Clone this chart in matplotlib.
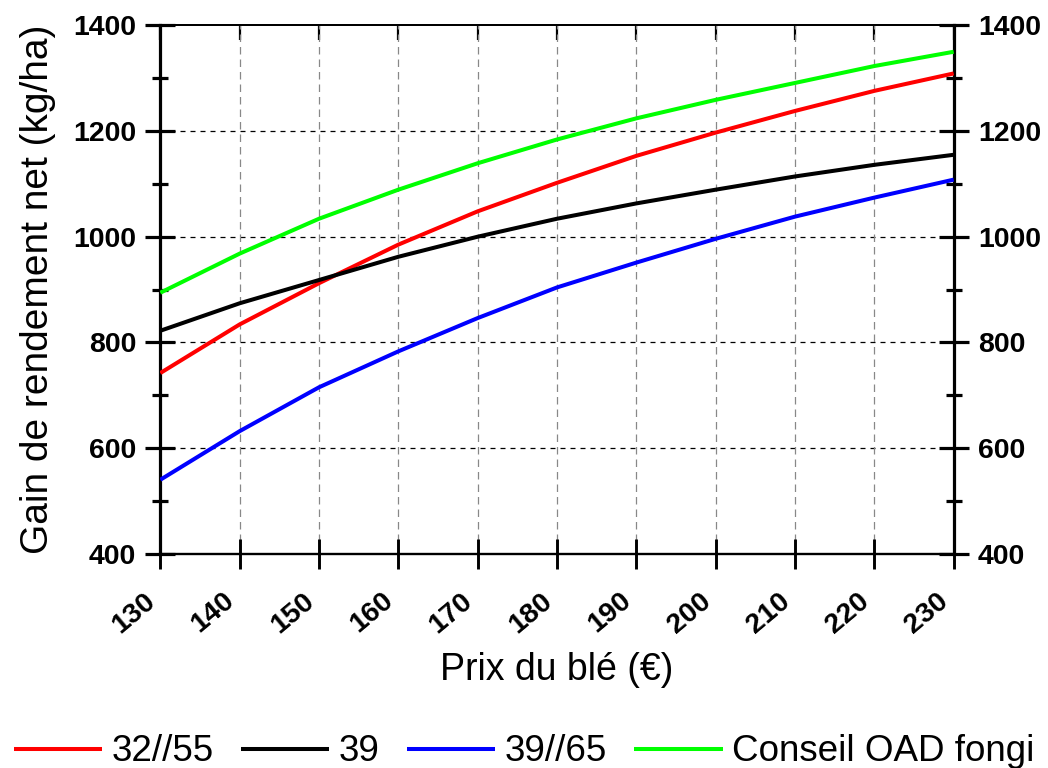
import numpy as np
import matplotlib.pyplot as plt
from matplotlib.ticker import MultipleLocator

plt.rcParams['font.family'] = ['Liberation Sans', 'DejaVu Sans']

# prix du blé (€) et gain de rendement net (kg/ha)
prix = [130, 140, 150, 160, 170, 180, 190, 200, 210, 220, 230]
gain_32_55 = [742, 834, 912, 985, 1048, 1102, 1153, 1197, 1238, 1276, 1309]
gain_39 = [822, 874, 918, 962, 1000, 1034, 1063, 1089, 1114, 1136, 1155]
gain_39_65 = [540, 632, 715, 783, 846, 904, 951, 996, 1038, 1074, 1108]
gain_oad = [894, 968, 1034, 1089, 1139, 1184, 1224, 1259, 1291, 1323, 1350]

noms = ['32//55', '39', '39//65', 'Conseil OAD fongi']
couleurs = ['#ff0000', '#000000', '#0000ff', '#00ff00']

fig = plt.figure(figsize=(10.48, 7.68), dpi=100)
ax = fig.add_axes([0.153, 0.279, 0.757, 0.688])

for y, c, n in zip([gain_32_55, gain_39, gain_39_65, gain_oad], couleurs, noms):
    ax.plot(prix, y, color=c, lw=2.9, label=n, solid_capstyle='butt', zorder=3)

ax.set_xlim(130, 230)
ax.set_ylim(400, 1400)
ax.set_xticks(prix)
ax.yaxis.set_major_locator(MultipleLocator(200))
ax.yaxis.set_minor_locator(MultipleLocator(100))

# grille : horizontale noire, verticale grise
for v in [600, 800, 1000, 1200]:
    ax.axhline(v, color='black', lw=0.9, ls=(0, (4, 4)), zorder=1)
for v in prix[1:-1]:
    ax.axvline(v, color='#888888', lw=0.9, ls=(0, (6, 4)), zorder=1)

for s in ['left', 'right']:
    ax.spines[s].set_linewidth(2.3)
ax.spines['bottom'].set_linewidth(1.7)
ax.spines['top'].set_linewidth(1.4)

ax.tick_params(axis='y', which='major', direction='inout', length=21, width=2.3,
               left=True, right=True, labelleft=True, labelright=True, pad=7)
ax.tick_params(axis='y', which='minor', direction='inout', length=11, width=2.3,
               left=True, right=True)
ax.tick_params(axis='x', which='major', direction='inout', length=21, width=2.1,
               top=False, bottom=True, pad=14)
ax.tick_params(axis='x', which='minor', bottom=False, top=False)

for lab in ax.get_yticklabels():
    lab.set_fontsize(20.5)
    lab.set_fontweight('bold')
ax.set_xticklabels([str(p) for p in prix], fontsize=20.5, fontweight='bold',
                   rotation=40, ha='right', rotation_mode='default')

sec = ax.secondary_xaxis('top')
sec.set_xticks(prix)
sec.tick_params(direction='in', length=11, width=1.6, labeltop=False)
sec.spines['top'].set_linewidth(1.4)

ax.set_ylabel('Gain de rendement net (kg/ha)', fontsize=28, labelpad=12)
ax.set_xlabel('Prix du blé (€)', fontsize=27, labelpad=10)

fig.legend(loc='lower center', bbox_to_anchor=(0.5, -0.045), ncol=4, frameon=False,
           fontsize=26.5, handlelength=2.4, handletextpad=0.25, columnspacing=0.75)

fig.savefig('out.png', dpi=100)
